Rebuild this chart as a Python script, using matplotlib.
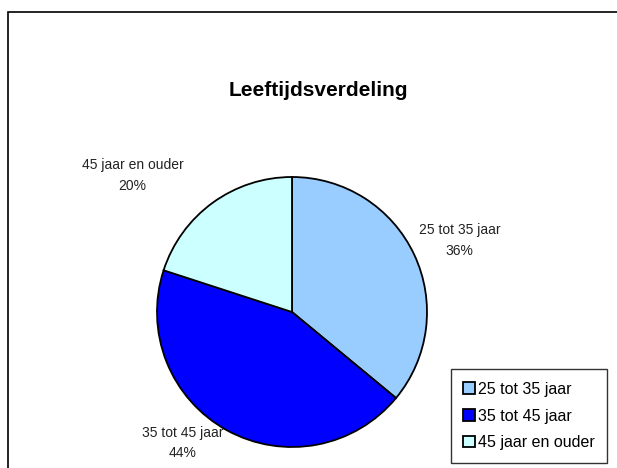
import matplotlib.pyplot as plt
from matplotlib.patches import Rectangle

plt.rcParams['font.family'] = ['Liberation Sans', 'DejaVu Sans']

categories = ['25 tot 35 jaar', '35 tot 45 jaar', '45 jaar en ouder']
shares = [36, 44, 20]
colors = ['#99CCFF', '#0000FF', '#CCFFFF']
title = 'Leeftijdsverdeling'

# label anchor points in axes data units (radius = 1)
label_pos = [(1.24, 0.53), (-0.81, -0.97), (-1.18, 1.01)]

fig = plt.figure(figsize=(6.17, 4.68), dpi=100)

# outer chart border, runs off the right and bottom edges
fig.patches.append(Rectangle((8 / 617, -0.1), 1.0, 1.1 - 12 / 468,
                             transform=fig.transFigure, fill=False,
                             edgecolor='black', linewidth=1.2))

r = 135
cx, cy = 292, 468 - 312
ax = fig.add_axes([(cx - r) / 617, (cy - r) / 468, 2 * r / 617, 2 * r / 468])
wedges, _ = ax.pie(shares, colors=colors, startangle=90, counterclock=False,
                   wedgeprops=dict(edgecolor='black', linewidth=1.3))
ax.set_xlim(-1, 1)
ax.set_ylim(-1, 1)
ax.set_aspect('equal')
ax.axis('off')

total = sum(shares)
for cat, val, (x, y) in zip(categories, shares, label_pos):
    ax.text(x, y, f'{cat}\n{round(100 * val / total)}%', ha='center',
            va='center', fontsize=10, linespacing=1.6, color='#222222')

fig.text(318 / 617, 1 - 90 / 468, title, ha='center', va='center',
         fontsize=15, fontweight='bold')

leg = fig.legend(wedges, categories, loc='center',
                 bbox_to_anchor=(529 / 617, 1 - 416 / 468), fontsize=11.5,
                 frameon=True, fancybox=False, edgecolor='black',
                 handlelength=0.7, handleheight=0.7, handletextpad=0.2,
                 labelspacing=0.75, borderpad=0.8)
leg.get_frame().set_linewidth(1.0)
for h in leg.legend_handles:
    h.set_linewidth(1.3)

fig.savefig('out.png', dpi=100)
